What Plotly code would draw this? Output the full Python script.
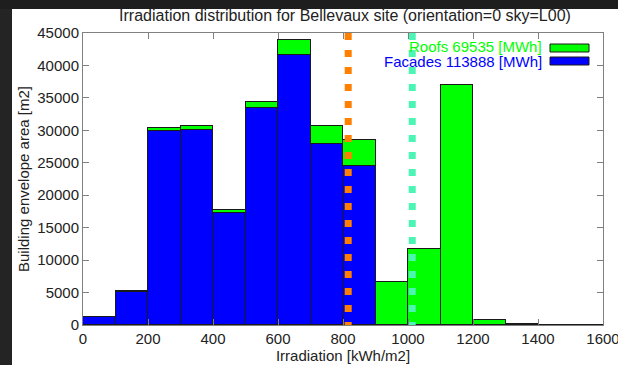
import plotly.graph_objects as go

# ---- data ----
bin_centers = [50, 150, 250, 350, 450, 550, 650, 750, 850, 950, 1050, 1150, 1250, 1350, 1450, 1550]
facades_area = [1200, 5050, 29900, 30050, 17250, 33400, 41600, 27850, 24500, 0, 0, 0, 0, 0, 0, 0]
roofs_area = [0, 200, 450, 550, 550, 900, 2300, 2800, 4000, 6650, 11750, 37000, 720, 200, 0, 0]
facades_mean = 816
roofs_mean = 1013
roofs_label = "Roofs 69535 [MWh]"
facades_label = "Facades 113888 [MWh]"
x_ticks = [0, 200, 400, 600, 800, 1000, 1200, 1400, 1600]
y_ticks = [0, 5000, 10000, 15000, 20000, 25000, 30000, 35000, 40000, 45000]

W, H = 618, 365
L, R, T, B = 83, 15, 33, 40
PW, PH = W - L - R, H - T - B


def px(xp):
    return (xp - L) / PW


def py(yp):
    return (H - B - yp) / PH


FONT = "Liberation Sans, Arial, sans-serif"
fig = go.Figure()
fig.add_trace(go.Bar(x=bin_centers, y=facades_area, width=100, name="Facades",
                     marker=dict(color="#0000ff", line=dict(color="#1a1a1a", width=1))))
fig.add_trace(go.Bar(x=bin_centers, y=roofs_area, width=100, name="Roofs",
                     marker=dict(color="#00ff00", line=dict(color="#1a1a1a", width=1))))
fig.add_trace(go.Scatter(x=[facades_mean, facades_mean], y=[45000, 0], mode="lines",
                         line=dict(color="#ff8000", width=7, dash="7px,10px"), cliponaxis=False))
fig.add_trace(go.Scatter(x=[roofs_mean, roofs_mean], y=[45000, 0], mode="lines",
                         line=dict(color="#4cf5b4", width=7, dash="7px,10px"), cliponaxis=False))

shapes = [
    # dark window border strips
    dict(type="rect", xref="paper", yref="paper", x0=px(0), x1=px(12), y0=py(H), y1=py(0),
         fillcolor="#242424", line=dict(width=0), layer="below"),
    dict(type="rect", xref="paper", yref="paper", x0=px(0), x1=px(W), y0=py(9), y1=py(0),
         fillcolor="#1e1e1e", line=dict(width=0), layer="below"),
    # legend boxes
    dict(type="rect", xref="paper", yref="paper", x0=px(550), x1=px(589), y0=py(52), y1=py(44),
         fillcolor="#00ff00", line=dict(color="#1a1a1a", width=1)),
    dict(type="rect", xref="paper", yref="paper", x0=px(550), x1=px(589), y0=py(65), y1=py(57),
         fillcolor="#0000ff", line=dict(color="#1a1a1a", width=1)),
]
annotations = [
    dict(text=roofs_label, xref="paper", yref="paper", x=px(543), y=py(47), xanchor="right",
         yanchor="middle", showarrow=False, borderpad=0,
         font=dict(family=FONT, size=15, color="#00ff00")),
    dict(text=facades_label, xref="paper", yref="paper", x=px(543), y=py(61.5), xanchor="right",
         yanchor="middle", showarrow=False, borderpad=0,
         font=dict(family=FONT, size=15, color="#0000ff")),
]

axis_common = dict(showline=True, linecolor="#808080", linewidth=1, mirror="allticks",
                   ticks="inside", ticklen=6, tickcolor="#808080", showgrid=False, zeroline=False,
                   automargin=False, ticklabeloverflow="allow", tickformat="d",
                   tickfont=dict(family=FONT, size=15, color="#222222"))
fig.update_layout(
    width=W, height=H, margin=dict(l=L, r=R, t=T, b=B, pad=0, autoexpand=False),
    paper_bgcolor="white", plot_bgcolor="white", barmode="stack", bargap=0, showlegend=False,
    title=dict(text="Irradiation distribution for Bellevaux site (orientation=0 sky=L00)",
               x=345 / W, xanchor="center", y=1 - 15 / H, yanchor="middle", automargin=False,
               font=dict(family=FONT, size=16, color="#222222")),
    xaxis=dict(range=[0, 1600], tickvals=x_ticks,
               title=dict(text="Irradiation [kWh/m2]", standoff=2,
                          font=dict(family=FONT, size=15, color="#222222")),
               **axis_common),
    yaxis=dict(range=[0, 45000], tickvals=y_ticks,
               title=dict(text="Building envelope area [m2]", standoff=4,
                          font=dict(family=FONT, size=15, color="#222222")),
               **axis_common),
    shapes=shapes, annotations=annotations,
)
fig.write_html("out.html", config={"displayModeBar": False},
               post_script="document.body.style.margin='0';document.body.style.overflow='hidden';")
